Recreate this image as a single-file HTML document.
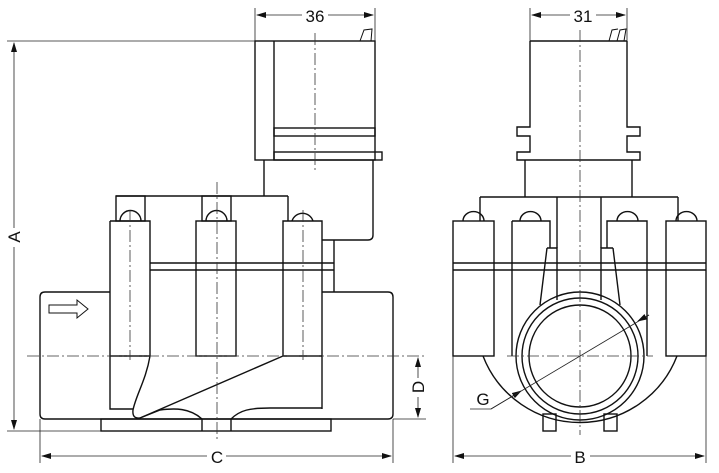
<!DOCTYPE html>
<html><head><meta charset="utf-8"><style>html,body{margin:0;padding:0;background:#fff}svg{display:block}</style></head>
<body>
<svg width="719" height="473" viewBox="0 0 719 473" xmlns="http://www.w3.org/2000/svg">
<defs>
<marker id="ar" markerWidth="10" markerHeight="6" refX="9" refY="3" orient="auto" markerUnits="userSpaceOnUse"><path d="M0,0 L10,3 L0,6 Z" fill="#111"/></marker>
</defs>
<g fill="none" stroke="#111" stroke-width="1.4">
<!-- LEFT VIEW -->
<!-- solenoid -->
<rect x="255" y="41" width="120" height="119"/>
<line x1="274" y1="41" x2="274" y2="160"/>
<rect x="274" y="128" width="101" height="8"/>
<rect x="274" y="152" width="108" height="8"/>
<path d="M360,41 L364,30 L372,29 L371,41" stroke-width="1"/>
<!-- neck -->
<path d="M264,160 L264,196"/>
<path d="M373,160 L373,235 Q373,240 368,240 L322,240"/>
<path d="M334,240 L334,292"/>
<path d="M116,196 L288,196"/>
<!-- bolt posts -->
<rect x="116" y="196" width="29" height="25"/>
<rect x="202" y="196" width="29" height="25"/>
<rect x="288" y="196" width="0" height="0"/>
<path d="M288,196 L288,221"/>
<path d="M120,221 A10,10 0 0 1 141,221"/>
<path d="M206,221 A10,10 0 0 1 227,221"/>
<path d="M292,221 A11,11 0 0 1 313,221"/>
<!-- columns -->
<path d="M110,221 L150,221 L150,356 M110,221 L110,409 L133,409"/>
<rect x="196" y="221" width="40" height="135"/>
<path d="M283,356 L283,221 L322,221 L322,409"/>
<line x1="150" y1="263" x2="334" y2="263"/>
<line x1="150" y1="270" x2="334" y2="270"/>
<line x1="110" y1="356" x2="150" y2="356"/>
<line x1="283" y1="356" x2="322" y2="356"/>
<!-- body -->
<path d="M110,292 L45,292 Q40,292 40,297 L40,414 Q40,419 45,419 L388,419 Q393,419 393,414 L393,297 Q393,292 388,292 L322,292"/>
<!-- inner curves -->
<path d="M150,356 C146,380 136,395 133,410 Q132,419 140,418 L160,410 C175,408 190,408 202,419"/>
<path d="M140,418 L283,356"/>
<path d="M231,419 C240,410 250,408 270,408 L322,408"/>
<!-- base -->
<rect x="101" y="419" width="230" height="12"/>
<line x1="202" y1="419" x2="202" y2="431"/>
<line x1="231" y1="419" x2="231" y2="431"/>
<!-- arrow -->
<path d="M49,305 L77,305 L77,300 L88,309 L77,318 L77,313 L49,313 Z" stroke-width="1"/>

<!-- RIGHT VIEW -->
<path d="M530,41 L627,41 M530,41 L530,127 L517,127 L517,136 L530,136 L530,152 L517,152 L517,160 L640,160 L640,152 L627,152 L627,136 L640,136 L640,127 L627,127 L627,41"/>
<path d="M617,41 L620,30 L626,29 L624,41 M609,41 L612,30 L618,29" stroke-width="1"/>
<path d="M525,160 L525,197 M632,160 L632,197"/>
<path d="M480,197 L678,197 M480,197 L480,221 M678,197 L678,221"/>
<path d="M557,197 L557,248 M601,197 L601,248"/>
<path d="M463,221 A10,9 0 0 1 484,221 M520,221 A10,9 0 0 1 541,221 M617,221 A10,9 0 0 1 638,221 M676,221 A10,9 0 0 1 697,221"/>
<rect x="453" y="221" width="41" height="135"/>
<rect x="666" y="221" width="40" height="135"/>
<path d="M512,221 L512,356 M512,221 L550,221 L550,248 M607,248 L607,221 L647,221 L647,356"/>
<path d="M453,263 L706,263 M453,270 L706,270"/>
<path d="M547,248 L557,248 L557,300 M540,305 L547,248"/>
<path d="M613,248 L601,248 L601,300 M620,305 L613,248"/>
<circle cx="580" cy="356" r="64"/>
<circle cx="580" cy="356" r="58"/>
<circle cx="580" cy="356" r="51"/>
<path d="M483,356 A104,104 0 0 0 677,356"/>
<rect x="543" y="414" width="13" height="17"/>
<rect x="604" y="414" width="13" height="17"/>
</g>

<!-- thin lines / dims -->
<g fill="none" stroke="#222" stroke-width="0.8">
<line x1="7" y1="41" x2="255" y2="41"/>
<line x1="7" y1="431" x2="101" y2="431"/>
<line x1="14" y1="228" x2="14" y2="43" marker-end="url(#ar)"/>
<line x1="14" y1="247" x2="14" y2="429" marker-end="url(#ar)"/>
<line x1="255" y1="8" x2="255" y2="41"/>
<line x1="375" y1="8" x2="375" y2="41"/>
<line x1="302" y1="15" x2="257" y2="15" marker-end="url(#ar)"/>
<line x1="328" y1="15" x2="373" y2="15" marker-end="url(#ar)"/>
<line x1="40" y1="419" x2="40" y2="463"/>
<line x1="393" y1="419" x2="393" y2="463"/>
<line x1="207" y1="456" x2="42" y2="456" marker-end="url(#ar)"/>
<line x1="226" y1="456" x2="391" y2="456" marker-end="url(#ar)"/>
<line x1="393" y1="419" x2="426" y2="419"/>
<line x1="418" y1="378" x2="418" y2="358" marker-end="url(#ar)"/>
<line x1="418" y1="397" x2="418" y2="417" marker-end="url(#ar)"/>
<line x1="530" y1="8" x2="530" y2="41"/>
<line x1="627" y1="8" x2="627" y2="41"/>
<line x1="570" y1="15" x2="532" y2="15" marker-end="url(#ar)"/>
<line x1="596" y1="15" x2="625" y2="15" marker-end="url(#ar)"/>
<line x1="453" y1="356" x2="453" y2="463"/>
<line x1="706" y1="356" x2="706" y2="463"/>
<line x1="571" y1="456" x2="455" y2="456" marker-end="url(#ar)"/>
<line x1="590" y1="456" x2="704" y2="456" marker-end="url(#ar)"/>
<path d="M470,409 L491,409 L521,391" marker-end="url(#ar)"/>
<line x1="491" y1="409" x2="649" y2="315"/>
<line x1="649" y1="315" x2="638" y2="321" marker-end="url(#ar)"/>
</g>
<!-- center lines -->
<g fill="none" stroke="#333" stroke-width="0.8" stroke-dasharray="12,3,2,3">
<line x1="315" y1="33" x2="315" y2="172"/>
<line x1="217" y1="182" x2="217" y2="442"/>
<line x1="130" y1="210" x2="130" y2="360"/>
<line x1="303" y1="210" x2="303" y2="360"/>
<line x1="27" y1="356" x2="425" y2="356"/>
<line x1="580" y1="30" x2="580" y2="435"/>
<line x1="507" y1="356" x2="653" y2="356"/>
</g>
<g font-family="Liberation Sans, sans-serif" font-size="17" fill="#111" text-anchor="middle">
<text x="315" y="22">36</text>
<text x="583" y="22">31</text>
<text x="217" y="463">C</text>
<text x="580" y="463">B</text>
<text x="483" y="405">G</text>
<text transform="translate(20,237) rotate(-90)">A</text>
<text transform="translate(424,387) rotate(-90)">D</text>
</g>
</svg>
</body></html>
